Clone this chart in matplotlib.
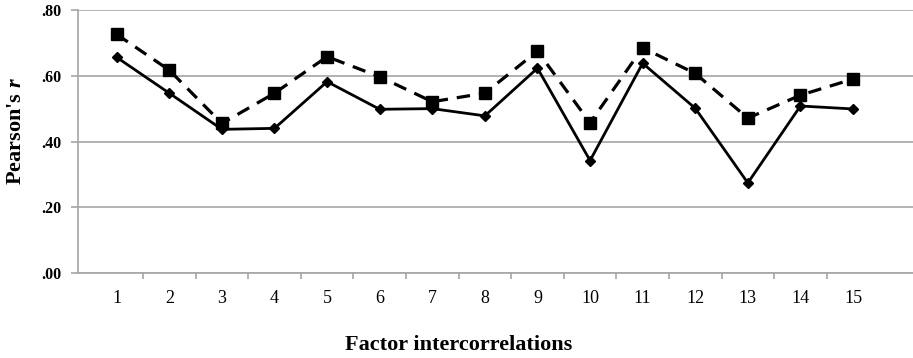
import matplotlib.pyplot as plt
from matplotlib.ticker import FixedLocator

plt.rcParams['font.family'] = ['Liberation Serif', 'DejaVu Serif']
plt.rcParams['mathtext.fontset'] = 'custom'
plt.rcParams['mathtext.rm'] = 'Liberation Serif:bold'
plt.rcParams['mathtext.it'] = 'Liberation Serif:bold:italic'

# Factor intercorrelation index
factors = list(range(1, 16))

# solid line with diamonds
solid_r = [0.656, 0.547, 0.437, 0.440, 0.582, 0.498, 0.500, 0.478,
           0.623, 0.342, 0.638, 0.501, 0.274, 0.508, 0.499]
# dashed line with squares
dashed_r = [0.726, 0.617, 0.455, 0.547, 0.658, 0.597, 0.521, 0.547,
            0.675, 0.457, 0.685, 0.607, 0.471, 0.541, 0.590]

y_ticks = [0.0, 0.2, 0.4, 0.6, 0.8]
y_tick_labels = ['.00', '.20', '.40', '.60', '.80']

fig = plt.figure(figsize=(9.13, 3.58), dpi=100)
ax = fig.add_axes([78 / 913, 85 / 358, 1 - 78 / 913, 263 / 358])

grid_col = '#a6a6a6'

ax.plot(factors, dashed_r, color='black', linewidth=2.3, dashes=(4.2, 2.8),
        marker='s', markersize=8, zorder=3)
ax.plot(factors, solid_r, color='black', linewidth=2.0, linestyle='-',
        marker='D', markersize=5.5, zorder=4)

ax.set_xlim(0.264, 16.14)
ax.set_ylim(0, 0.8)

ax.set_yticks(y_ticks)
ax.set_yticklabels(y_tick_labels, fontweight='bold', fontsize=11.5)
ax.yaxis.grid(True, color=grid_col, linewidth=1.2)
ax.set_axisbelow(True)

ax.xaxis.set_major_locator(FixedLocator(factors))
ax.set_xticklabels([str(f) for f in factors], fontsize=13)
ax.xaxis.set_minor_locator(FixedLocator([f + 0.5 for f in factors[:-1]]))
ax.tick_params(axis='x', which='major', length=0, pad=12)
ax.tick_params(axis='x', which='minor', length=4, color=grid_col, width=1.2)
ax.tick_params(axis='y', which='major', length=5, color=grid_col, width=1.2, pad=7)

for side in ['top', 'right']:
    ax.spines[side].set_visible(False)
for side in ['left', 'bottom']:
    ax.spines[side].set_color(grid_col)
    ax.spines[side].set_linewidth(1.2)

fig.text(459 / 913, 1 - 345 / 358, 'Factor intercorrelations', ha='center', va='center',
         fontsize=16, fontweight='bold')
fig.text(16 / 913, 1 - 131 / 358, "Pearson's $r$", ha='center', va='center',
         rotation=90, fontsize=16, fontweight='bold')

fig.savefig('out.png', dpi=100)
